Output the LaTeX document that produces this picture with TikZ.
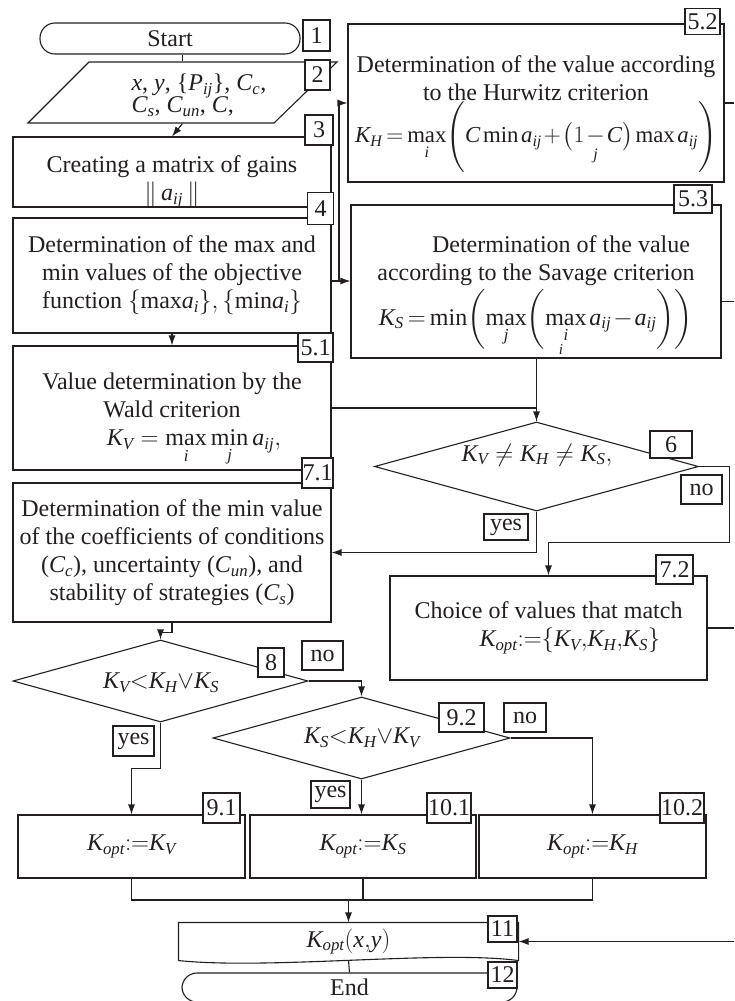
\documentclass[tikz,border=0pt]{standalone}
\usepackage{amsmath}
\usepackage{graphicx}
\usepackage{fontspec}
\setmainfont{Liberation Serif}
\usetikzlibrary{shapes.geometric,arrows.meta,calc}
\definecolor{ink}{RGB}{35,31,32}
\newcommand{\Ki}[1]{\mathit{K}_{\mathit{#1}}}
\newcommand{\Ci}[1]{\mathit{C}_{\mathit{#1}}}
\newcommand{\aij}{\mathit{a}_{\mathit{ij}}}
\newcommand{\tightmath}{\thickmuskip=3mu\medmuskip=1.5mu\thinmuskip=2mu}
\begin{document}
\begin{tikzpicture}[x=1pt,y=-1pt,color=ink,line width=1.1pt,
  box/.style={draw=ink,rectangle,inner sep=0pt,align=center,font=\fontsize{24}{28}\selectfont},
  term/.style={draw=ink,rectangle,rounded corners=15pt,inner sep=0pt,font=\fontsize{24}{28}\selectfont},
  dia/.style={draw=ink,diamond,inner sep=0pt},
  txt/.style={inner sep=0pt,align=center,font=\fontsize{24}{28}\selectfont},
  lbl/.style={draw=ink,fill=white,rectangle,inner sep=0pt,font=\fontsize{24}{26}\selectfont},
  arr/.style={-{Latex[length=10pt,width=7pt]}}]
\fill[white] (0,0) rectangle (734,1001);
\useasboundingbox (0,0) rectangle (734,1001);
\coordinate (rx) at (734,0);
% ---------- shapes ----------
\node[term,minimum width=260pt,minimum height=31pt] (start) at (170,38.5) {Start};
\draw (89,62) -- (337,62) -- (274,123) -- (28,123) -- cycle;
\node[inner sep=0pt,minimum width=309pt,minimum height=61pt] (p) at (182.5,92.5) {};
\node[txt,align=left,anchor=west] (ptxt) at (131,95) {$\mathit{x}$, $\mathit{y}$, \{$\mathit{P}_{\mathit{ij}}$\}, $\Ci{c}$,\\[-6pt]$\Ci{s}$, $\Ci{un}$, $\mathit{C}$,};
\node[box,minimum width=318pt,minimum height=70pt] (b3) at (172,172) {};
\node[txt] (b3t) at (172,182) {Creating a matrix of gains\\$\|\,\aij\,\|$};
\node[box,minimum width=318pt,minimum height=115pt] (b4) at (172,275.5) {Determination of the max and\\min values of the objective\\function $\{\mathrm{max}\mathit{a}_{\mathit{i}}\},\{\mathrm{min}\mathit{a}_{\mathit{i}}\}$};
\node[box,minimum width=318pt,minimum height=124pt] (b51) at (172,408) {};
\node[txt] (b51t) at (172,420) {Value determination by the\\Wald criterion\\\hspace*{44pt}$\Ki{V}=\max\limits_{\mathit{i}}\min\limits_{\mathit{j}}\aij,$};
\node[box,minimum width=318pt,minimum height=139pt] (b71) at (172,552.5) {Determination of the min value\\of the coefficients of conditions\\($\Ci{c}$), uncertainty ($\Ci{un}$), and\\stability of strategies ($\Ci{s}$)};
\node[box,minimum width=376pt,minimum height=158pt] (b52) at (536,103) {};
\node[txt] (b52t) at (536,114) {Determination of the value according\\to the Hurwitz criterion\\\scalebox{0.95}{$\tightmath\Ki{H}=\max\limits_{\mathit{i}}\Biggl(\mathit{C}\min\aij+\bigl(1\mathbin{\underset{\mathit{j}}{-}}\mathit{C}\bigr)\max\aij\Biggr)$}};
\node[box,minimum width=370pt,minimum height=153pt] (b53) at (536,281.5) {};
\node[txt] (b53t) at (536,292) {\hspace*{50pt}Determination of the value\\according to the Savage criterion\\[3pt]$\tightmath\Ki{S}=\min\biggl(\max\limits_{\mathit{j}}\biggl(\max\limits_{\mathit{i}}\aij-\aij\biggr)\biggr)$};
\node[inner sep=0pt,font=\fontsize{15}{15}\selectfont\itshape] (i53) at (561,350) {i};
\node[dia,minimum width=324pt,minimum height=89pt] (d6) at (536.5,466.5) {};
\node[txt] (t6) at (537,455) {$\Ki{V}\neq\Ki{H}\neq\Ki{S},$};
\node[box,minimum width=317pt,minimum height=104pt] (b72) at (548.5,628) {Choice of values that match\\\hspace*{43pt}$\Ki{opt}{:}{=}\{\Ki{V}{,}\Ki{H}{,}\Ki{S}\}$};
\node[dia,minimum width=295pt,minimum height=82pt] (d8) at (160.5,681) {};
\node[txt] (t8) at (161,683) {$\Ki{V}{<}\Ki{H}{\vee}\Ki{S}$};
\node[dia,minimum width=297pt,minimum height=82pt] (d92) at (361.5,738) {};
\node[txt] (t92) at (362,738) {$\Ki{S}{<}\Ki{H}{\vee}\Ki{V}$};
\node[box,minimum width=227pt,minimum height=63pt] (b91) at (131.5,846.5) {$\Ki{opt}{:}{=}\Ki{V}$};
\node[box,minimum width=226pt,minimum height=63pt] (b101) at (363,846.5) {$\Ki{opt}{:}{=}\Ki{S}$};
\node[box,minimum width=227pt,minimum height=63pt] (b102) at (592.5,846.5) {$\Ki{opt}{:}{=}\Ki{H}$};
\node[txt,minimum width=339pt,minimum height=37pt] (b11) at (348.5,941.5) {$\Ki{opt}(\mathit{x}{,}\mathit{y})$};
\draw (b11.south west) -- (b11.north west) -- (b11.north east) -- (b11.south east)
  .. controls (440,950) and (270,970) .. (b11.south west);
\node[term,minimum width=335pt,minimum height=29pt] (end) at (349.5,987.5) {End};
% ---------- connectors ----------
\draw (start.south -| p.north) -- (p.north);
\draw[arr] (p.south) -- (b3.north);
\draw[arr] (b4.south) -- (b51.north);
\coordinate (j) at (339,281);
\draw (b4.east |- j) -- (j);
\draw[arr] (j) -- (j -| b53.west);
\draw[arr] (j) |- (b52.west);
\draw (b52.east) -- (b52.east -| rx);
\draw ([yshift=-20pt]b53.east) -- ([yshift=-20pt]b53.east -| rx);
\draw (b72.east) -- (b72.east -| rx);
\draw[arr] (b53.south -| d6.north) -- (d6.north);
\draw (b51.east) -| (d6.north);
\draw[arr] (d6.south) |- (b71.east);
\draw[arr] (d6.east) -- ++(30,0) |- ([yshift=33pt]b72.north) -- (b72.north);
\draw[arr] (b71.south) -- ++(0,10) -| (d8.north);
\draw[arr] (d8.east) -| (d92.north);
\draw[arr] (d8.south) -- ++(0,46) -| (b91.north);
\draw[arr] (d92.south) -- (d92.south |- b101.north);
\draw[arr] (d92.east) -| (b102.north);
\coordinate (m) at (348.5,900);
\draw (b91.south) -- (b91.south |- m) -- (b102.south |- m) -- (b102.south);
\draw (b101.south) -- (b101.south |- m);
\draw[arr] (m) -- (b11.north);
\draw[arr] (b11.east -| rx) -- (b11.east);
\draw (b11.south) -- (end.north);
% ---------- labels ----------
\node[lbl,minimum width=27pt,minimum height=31pt] (L1) at (316.5,35.5) {1};
\node[lbl,minimum width=25pt,minimum height=30pt] (L2) at (317.5,75) {2};
\node[lbl,minimum width=28pt,minimum height=30pt] (L3) at (319,130) {3};
\node[lbl,minimum width=26pt,minimum height=32pt] (L4) at (320.5,208.5) {4};
\node[lbl,minimum width=35pt,minimum height=29pt] (L51) at (315.5,347.5) {5.1};
\node[lbl,minimum width=31pt,minimum height=30pt] (L71) at (317.5,473) {7.1};
\node[lbl,minimum width=35pt,minimum height=26pt] (L52) at (702.5,21.5) {5.2};
\node[lbl,minimum width=38pt,minimum height=28pt] (L53) at (693,199) {5.3};
\node[lbl,minimum width=42pt,minimum height=27pt] (L6) at (671,444.5) {6};
\node[lbl,minimum width=41pt,minimum height=29pt] (Lno6) at (701.5,489.5) {no};
\node[lbl,minimum width=44pt,minimum height=26pt] (Lyes6) at (506,527) {yes};
\node[lbl,minimum width=37pt,minimum height=29pt] (L72) at (674.5,569.5) {7.2};
\node[lbl,minimum width=26pt,minimum height=29pt] (L8) at (271,662.5) {8};
\node[lbl,minimum width=41pt,minimum height=29pt] (Lno8) at (322.5,655.5) {no};
\node[lbl,minimum width=41pt,minimum height=30pt] (Lyes8) at (133.5,741) {yes};
\node[lbl,minimum width=45pt,minimum height=29pt] (L92) at (461.5,717.5) {9.2};
\node[lbl,minimum width=42pt,minimum height=29pt] (Lno92) at (525,717.5) {no};
\node[lbl,minimum width=39pt,minimum height=27pt] (Lyes92) at (330.5,794.5) {yes};
\node[lbl,minimum width=37pt,minimum height=30pt] (L91) at (221.5,808) {9.1};
\node[lbl,minimum width=44pt,minimum height=30pt] (L101) at (449,808) {10.1};
\node[lbl,minimum width=44pt,minimum height=30pt] (L102) at (682,808) {10.2};
\node[lbl,minimum width=29pt,minimum height=26pt] (L11) at (502.5,929) {11};
\node[lbl,minimum width=29pt,minimum height=26pt] (L12) at (502.5,975) {12};
\end{tikzpicture}
\end{document}
